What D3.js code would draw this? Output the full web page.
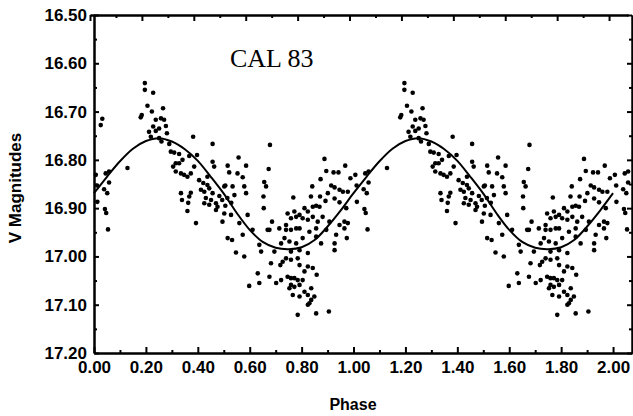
<!DOCTYPE html>
<html>
<head>
<meta charset="utf-8">
<script src="https://cdn.jsdelivr.net/npm/d3@7"></script>
<style>
  body { margin: 0; background: #fff; }
  .axis path, .axis line { stroke: #000; stroke-width: 2; }
  .axis text { font-family: "Liberation Sans", Arial, sans-serif; font-weight: bold; font-size: 17px; fill: #000; }
</style>
</head>
<body>
<div id="chart"></div>
<script>
// observations folded on one cycle: [phase, V magnitude]
const obs = [
  [0.007,16.831],[0.012,16.853],[0.045,16.828],[0.058,16.824],[0.058,16.847],[0.051,16.869],[0.039,16.861],[0.013,16.887],[0.042,16.902],[0.047,16.910],[0.054,16.944],[0.129,16.817],
  [0.196,16.641],[0.196,16.655],[0.228,16.661],[0.206,16.688],[0.184,16.707],[0.180,16.712],[0.223,16.700],[0.266,16.693],[0.238,16.717],[0.258,16.714],[0.270,16.717],[0.228,16.731],[0.212,16.742],[0.238,16.740],[0.251,16.735],[0.277,16.730],[0.281,16.745],[0.251,16.755],[0.260,16.762],[0.219,16.752],[0.290,16.767],
  [0.296,16.783],[0.309,16.785],[0.328,16.788],[0.382,16.752],[0.457,16.767],[0.397,16.790],[0.367,16.792],[0.315,16.807],[0.305,16.814],[0.328,16.807],[0.315,16.824],[0.335,16.828],[0.347,16.831],[0.360,16.835],[0.373,16.828],[0.386,16.814],[0.457,16.804],[0.463,16.814],[0.405,16.842],[0.421,16.848],[0.437,16.852],[0.412,16.862],[0.425,16.866],[0.444,16.859],[0.457,16.869],[0.431,16.879],[0.451,16.883],[0.470,16.890],[0.373,16.868],[0.367,16.876],[0.335,16.869],[0.363,16.889],[0.360,16.906],[0.393,16.931],[0.341,16.800],[0.502,16.855],[0.476,16.897],[0.470,16.904],[0.502,16.911],[0.437,16.835],[0.483,16.875],[0.494,16.883],[0.339,16.883],[0.495,16.928],[0.425,16.890],[0.444,16.893],
  [0.515,16.812],[0.557,16.795],[0.553,16.828],[0.586,16.812],[0.573,16.836],[0.521,16.826],[0.678,16.769],[0.673,16.819],[0.656,16.846],[0.663,16.855],[0.653,16.876],[0.654,16.900],[0.686,16.928],[0.676,16.945],[0.506,16.853],[0.534,16.855],[0.579,16.855],[0.586,16.869],[0.541,16.873],[0.514,16.879],[0.529,16.889],[0.506,16.895],[0.528,16.914],[0.592,16.914],[0.560,16.931],[0.611,16.945],[0.515,16.962],[0.532,16.966],[0.547,16.992],[0.579,17.000],[0.573,16.955],[0.669,16.945],[0.637,16.976],[0.644,16.990],[0.631,17.035],[0.598,17.061],[0.637,17.055],[0.676,17.042],[0.682,17.014],[0.695,16.990],
  [0.721,16.973],[0.734,16.962],[0.753,16.969],[0.779,16.973],[0.804,16.962],[0.830,16.949],[0.856,16.959],[0.895,16.945],[0.933,16.955],[0.965,16.942],[0.974,16.962],[0.927,16.987],[0.875,16.973],[0.824,16.993],[0.792,16.987],[0.759,16.990],[0.740,17.004],[0.727,17.011],[0.718,17.018],[0.759,17.007],[0.785,17.004],[0.792,17.018],[0.824,17.021],[0.843,17.024],[0.858,17.038],[0.702,17.055],[0.721,17.049],[0.746,17.042],[0.759,17.045],[0.772,17.045],[0.785,17.049],[0.804,17.049],[0.811,17.031],[0.759,17.059],[0.772,17.063],[0.753,17.066],[0.792,17.059],[0.837,17.066],[0.811,17.073],[0.824,17.080],[0.849,17.083],[0.766,17.080],[0.792,17.083],[0.837,17.090],[0.830,17.097],[0.824,17.100],[0.785,17.121],[0.856,17.118],[0.905,17.114],[0.740,16.945],[0.779,16.942],
  [0.888,16.798],[0.968,16.812],[0.895,16.823],[0.923,16.826],[0.942,16.826],[0.873,16.840],[0.988,16.838],[0.841,16.855],[0.914,16.853],[0.927,16.857],[0.946,16.862],[0.959,16.866],[0.978,16.866],[0.901,16.869],[0.871,16.876],[0.836,16.876],[0.892,16.885],[0.927,16.880],[0.946,16.888],[0.972,16.900],[0.768,16.878],[0.856,16.895],[0.869,16.897],[0.843,16.897],[0.811,16.900],[0.824,16.907],[0.792,16.914],[0.772,16.907],[0.746,16.911],[0.759,16.921],[0.779,16.918],[0.804,16.921],[0.824,16.924],[0.843,16.918],[0.862,16.928],[0.881,16.918],[0.907,16.928],[0.965,16.928],[0.978,16.931],[0.740,16.935],[0.759,16.945],[0.792,16.942],[0.856,16.942],[0.714,16.942],[0.946,16.935],[0.927,16.973]
];
// points that appear only in the first cycle
const obsExtra = [[0.032,16.715],[0.026,16.728]];

// fitted light curve, one cycle
const curvePhase = [0,0.05,0.1,0.15,0.2,0.25,0.3,0.35,0.4,0.45,0.5,0.55,0.6,0.65,0.7,0.75,0.8,0.85,0.9,0.95,1.0];
const curveMag = [16.869,16.835,16.803,16.777,16.761,16.755,16.762,16.778,16.802,16.835,16.870,16.910,16.945,16.970,16.982,16.985,16.981,16.966,16.938,16.905,16.869];

const xMajor = [0,0.2,0.4,0.6,0.8,1.0,1.2,1.4,1.6,1.8,2.0];
const xMinor = [0.1,0.3,0.5,0.7,0.9,1.1,1.3,1.5,1.7,1.9];
const yMajor = [16.5,16.6,16.7,16.8,16.9,17.0,17.1,17.2];
const yMinor = [16.55,16.65,16.75,16.85,16.95,17.05,17.15];

const width = 633, height = 416;
const xMax = 2.073;

const svg = d3.select("#chart").append("svg")
    .attr("width", width)
    .attr("height", height);

const x = d3.scaleLinear().domain([0, xMax]).range([94, 632]);
const y = d3.scaleLinear().domain([16.5, 17.2]).range([15, 353]);

// axes
svg.append("g").attr("class", "axis")
    .attr("transform", "translate(0," + y(17.2) + ")")
    .call(d3.axisBottom(x).tickValues(xMajor).tickSize(-6).tickPadding(8).tickSizeOuter(0).tickFormat(d3.format(".2f")));
svg.append("g").attr("class", "axis")
    .attr("transform", "translate(0," + y(17.2) + ")")
    .call(d3.axisBottom(x).tickValues(xMinor).tickSize(-3).tickSizeOuter(0).tickFormat(""));

svg.append("g").attr("class", "axis")
    .attr("transform", "translate(-4," + y(16.5) + ")")
    .call(d3.axisTop(x).tickValues(xMajor).tickSize(-6).tickSizeOuter(0).tickFormat(""));
svg.append("g").attr("class", "axis")
    .attr("transform", "translate(-4," + y(16.5) + ")")
    .call(d3.axisTop(x).tickValues(xMinor).tickSize(-3).tickSizeOuter(0).tickFormat(""));

svg.append("g").attr("class", "axis")
    .attr("transform", "translate(" + x(0) + ",0)")
    .call(d3.axisLeft(y).tickValues(yMajor).tickSize(-5).tickPadding(7).tickSizeOuter(0).tickFormat(d3.format(".2f")));
svg.append("g").attr("class", "axis")
    .attr("transform", "translate(" + x(0) + ",0)")
    .call(d3.axisLeft(y).tickValues(yMinor).tickSize(-3).tickSizeOuter(0).tickFormat(""));

svg.append("g").attr("class", "axis")
    .attr("transform", "translate(" + x(xMax) + ",0)")
    .call(d3.axisRight(y).tickValues(yMajor).tickSize(-5).tickSizeOuter(0).tickFormat(""));
svg.append("g").attr("class", "axis")
    .attr("transform", "translate(" + x(xMax) + ",0)")
    .call(d3.axisRight(y).tickValues(yMinor).tickSize(-3).tickSizeOuter(0).tickFormat(""));

// points, repeated for each cycle shown
const pts = [];
obs.forEach(function (d) {
    [0, 1, 2].forEach(function (k) {
        if (d[0] + k <= xMax) pts.push([d[0] + k, d[1]]);
    });
});
obsExtra.forEach(function (d) { pts.push(d); });

svg.selectAll(".dot")
    .data(pts)
    .enter().append("circle")
    .attr("class", "dot")
    .attr("cx", function (d) { return x(d[0]); })
    .attr("cy", function (d) { return y(d[1]); })
    .attr("r", 2.3)
    .attr("fill", "#000");

// fitted curve over two cycles
const curvePts = [];
[0, 1].forEach(function (k) {
    curvePhase.forEach(function (p, i) {
        if (k === 1 && i === 0) return;
        curvePts.push([p + k, curveMag[i]]);
    });
});
svg.append("path")
    .datum(curvePts)
    .attr("fill", "none")
    .attr("stroke", "#000")
    .attr("stroke-width", 2)
    .attr("d", d3.line()
        .x(function (d) { return x(d[0]); })
        .y(function (d) { return y(d[1]); })
        .curve(d3.curveCatmullRom));

// labels
svg.append("text")
    .attr("x", 230).attr("y", 67)
    .style("font-family", "'Liberation Serif', 'Times New Roman', serif")
    .style("font-size", "26px")
    .text("CAL 83");

svg.append("text")
    .attr("x", 353).attr("y", 410)
    .attr("text-anchor", "middle")
    .style("font-family", "'Liberation Sans', Arial, sans-serif")
    .style("font-weight", "bold")
    .style("font-size", "16px")
    .text("Phase");

svg.append("text")
    .attr("transform", "translate(21,188) rotate(-90)")
    .attr("text-anchor", "middle")
    .style("font-family", "'Liberation Sans', Arial, sans-serif")
    .style("font-weight", "bold")
    .style("font-size", "17px")
    .text("V Magnitudes");
</script>
</body>
</html>
